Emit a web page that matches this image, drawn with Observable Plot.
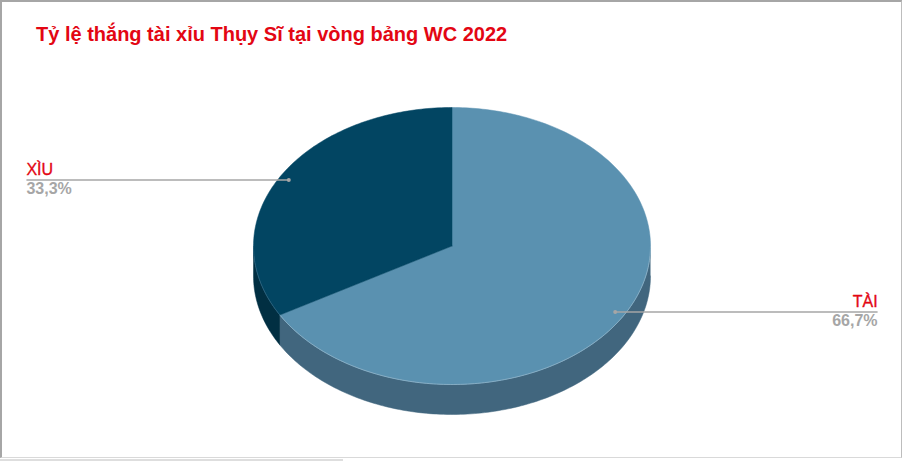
<!DOCTYPE html>
<html lang="vi">
<head>
<meta charset="utf-8">
<script src="https://cdn.jsdelivr.net/npm/d3@7"></script>
<script src="https://cdn.jsdelivr.net/npm/@observablehq/plot@0.6"></script>
<style>
  html, body { margin: 0; padding: 0; background: #fff; overflow: hidden; }
  #page { position: relative; width: 904px; height: 461px; overflow: hidden; font-family: "Liberation Sans", Arial, sans-serif; }
  #title { height: 60px; box-sizing: border-box; padding: 22px 0 0 36px; font-size: 20px; line-height: 24px; font-weight: bold; color: #e30613; white-space: nowrap; }
  #plot svg { display: block; }
  #frame { position: absolute; left: 0; top: 0; width: 902px; height: 458px; box-sizing: border-box; border-left: 2px solid #a6a6a6; border-top: 2px solid #a6a6a6; border-right: 1px solid #bdbdbd; border-bottom: 1px solid #d9d9d9; pointer-events: none; }
  #strip { position: absolute; left: 0; top: 459px; width: 343px; height: 2px; background: #dedede; }
</style>
</head>
<body>
<div id="page">
  <div id="title">Tỷ lệ thắng tài xỉu Thụy Sĩ tại vòng bảng WC 2022</div>
  <div id="plot"></div>
  <div id="frame"></div>
  <div id="strip"></div>
</div>
<script>
const categories = ["TÀI", "XÌU"];
const shares = [66.7, 33.3];
const shareLabels = ["66,7%", "33,3%"];
const topColors = ["#5a91b0", "#024562"];
const sideColors = ["#41667e", "#012f42"];
const rimColors = ["#8fb4c9", "#2f6580"];

// Layout of the tilted pie, in pixels of the page
const W = 904, H = 401, titleH = 60;
const cx = 451.5, cy = 245.5 - titleH, rx = 198.5, ry = 138.5, depth = 30 / 138.5;
const leaderReach = 2.144, dotRadius = 0.95;

const total = d3.sum(shares);
const pt = (deg, r = 1, drop = 0) => {
  const a = deg * Math.PI / 180;
  return {u: r * Math.sin(a), v: -r * Math.cos(a) + drop};
};
const arc = (a, b, drop = 0) => {
  const n = Math.max(2, Math.ceil(Math.abs(b - a)));
  return d3.range(n + 1).map(i => pt(a + (b - a) * i / n, 1, drop));
};

let start = 0;
const slices = categories.map((name, i) => {
  const a = start, b = start + shares[i] / total * 360;
  start = b;
  const f0 = Math.max(a, 90), f1 = Math.min(b, 270);
  return {
    name, a, b, mid: (a + b) / 2,
    top: [pt(a, 0), ...arc(a, b), pt(a, 0)],
    wall: f1 > f0 ? [...arc(f0, f1), ...arc(f1, f0, depth)] : [],
    rim: f1 > f0 ? arc(f0, f1) : [],
    top_: topColors[i], side_: sideColors[i], rim_: rimColors[i],
    share: shareLabels[i]
  };
});

const leaders = slices.map(s => {
  const d = pt(s.mid, dotRadius);
  return {...s, u0: d.u, v0: d.v, u1: d.u > 0 ? leaderReach : -leaderReach};
});

const font = {fontFamily: "Liberation Sans, Arial, sans-serif", fontSize: 16};
const nameStyle = {fill: "#e30613", stroke: "#e30613", strokeWidth: 0.35, dy: -10, ...font};
const shareStyle = {fill: "#a6a6a6", fontWeight: "bold", dy: 9, ...font};

document.getElementById("plot").append(Plot.plot({
  width: W, height: H, margin: 0,
  x: {axis: null, domain: [-cx / rx, (W - cx) / rx], range: [0, W]},
  y: {axis: null, domain: [-cy / ry, (H - cy) / ry], range: [0, H]},
  style: {background: "transparent"},
  marks: [
    ...slices.map(s => Plot.line(s.wall, {x: "u", y: "v", fill: s.side_, stroke: s.side_, strokeWidth: 0.5, curve: "linear"})),
    ...slices.map(s => Plot.line(s.top, {x: "u", y: "v", fill: s.top_, stroke: s.top_, strokeWidth: 0.5, curve: "linear"})),
    ...slices.map(s => Plot.line(s.rim, {x: "u", y: "v", stroke: s.rim_, strokeWidth: 0.8, curve: "linear"})),
    Plot.link(leaders, {x1: "u0", y1: "v0", x2: "u1", y2: "v0", stroke: "#a6a6a6", strokeWidth: 1.5}),
    Plot.dot(leaders, {x: "u0", y: "v0", r: 2, fill: "#a6a6a6", stroke: "none"}),
    Plot.text(leaders, {x: "u1", y: "v0", text: "name", ...nameStyle, textAnchor: "start", filter: d => d.u1 < 0}),
    Plot.text(leaders, {x: "u1", y: "v0", text: "share", ...shareStyle, textAnchor: "start", filter: d => d.u1 < 0}),
    Plot.text(leaders, {x: "u1", y: "v0", text: "name", ...nameStyle, textAnchor: "end", filter: d => d.u1 > 0}),
    Plot.text(leaders, {x: "u1", y: "v0", text: "share", ...shareStyle, textAnchor: "end", filter: d => d.u1 > 0})
  ]
}));
</script>
</body>
</html>
